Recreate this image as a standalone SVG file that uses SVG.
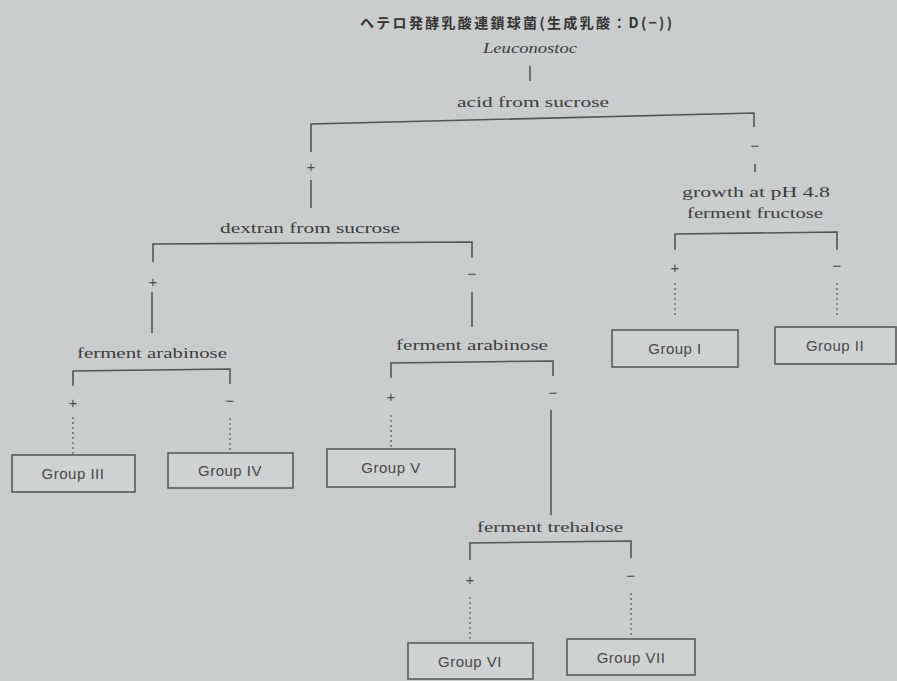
<svg xmlns="http://www.w3.org/2000/svg" width="897" height="681" viewBox="0 0 897 681">
  <style>
    .lbl { font-family: "Liberation Serif", "DejaVu Serif", serif; font-size: 15px; fill: #3c3c3c; text-anchor: middle; }
    .sign { font-family: "Liberation Sans", "DejaVu Sans", sans-serif; font-size: 15px; fill: #4a4a4a; text-anchor: middle; }
    .grp { font-family: "Liberation Sans", "DejaVu Sans", sans-serif; font-size: 15px; fill: #484848; text-anchor: middle; letter-spacing: 0.5px; }
    .box { fill: #cfd2d2; stroke: #5a5a5a; stroke-width: 1.6; }
    .ln { fill: none; stroke: #555; stroke-width: 1.6; }
    .dot { fill: none; stroke: #666; stroke-width: 1.4; stroke-dasharray: 2 3; }
  </style>
  <rect width="897" height="681" fill="#cacdcd"/>

  <!-- heading -->
  <text x="516" y="28" font-family="'Noto Sans CJK JP', sans-serif" font-size="14" font-weight="bold" fill="#333" text-anchor="middle" textLength="312" lengthAdjust="spacing">ヘテロ発酵乳酸連鎖球菌(生成乳酸：D(−))</text>
  <text x="530" y="53" class="lbl" font-style="italic" textLength="94" lengthAdjust="spacingAndGlyphs">Leuconostoc</text>

  <!-- decision labels -->
  <g id="acid-sucrose"><text x="533" y="107" class="lbl" textLength="152" lengthAdjust="spacingAndGlyphs">acid from sucrose</text></g>
  <g id="dextran-sucrose"><text x="310" y="233" class="lbl" textLength="180" lengthAdjust="spacingAndGlyphs">dextran from sucrose</text></g>
  <g id="growth-ph">
    <text x="756" y="197" class="lbl" textLength="148" lengthAdjust="spacingAndGlyphs">growth at pH 4.8</text>
    <text x="755" y="218" class="lbl" textLength="136" lengthAdjust="spacingAndGlyphs">ferment fructose</text>
  </g>
  <g id="arabinose-left"><text x="152" y="358" class="lbl" textLength="150" lengthAdjust="spacingAndGlyphs">ferment arabinose</text></g>
  <g id="arabinose-right"><text x="472" y="350" class="lbl" textLength="152" lengthAdjust="spacingAndGlyphs">ferment arabinose</text></g>
  <g id="trehalose"><text x="550" y="532" class="lbl" textLength="146" lengthAdjust="spacingAndGlyphs">ferment trehalose</text></g>

  <!-- result groups -->
  <g id="group-1"><rect class="box" x="612" y="330" width="126" height="37"/><text x="675" y="354" class="grp">Group  I</text></g>
  <g id="group-2"><rect class="box" x="775" y="327" width="121" height="37"/><text x="835" y="351" class="grp">Group  II</text></g>
  <g id="group-3"><rect class="box" x="12" y="455" width="123" height="37"/><text x="73" y="479" class="grp">Group  III</text></g>
  <g id="group-4"><rect class="box" x="168" y="453" width="125" height="35"/><text x="230" y="476" class="grp">Group  IV</text></g>
  <g id="group-5"><rect class="box" x="327" y="449" width="128" height="38"/><text x="391" y="473" class="grp">Group  V</text></g>
  <g id="group-6"><rect class="box" x="408" y="643" width="125" height="36"/><text x="470" y="667" class="grp">Group  VI</text></g>
  <g id="group-7"><rect class="box" x="567" y="639" width="128" height="36"/><text x="631" y="663" class="grp">Group  VII</text></g>

  <!-- connectors -->
  <g id="connectors">
    <line class="ln" x1="530" y1="66" x2="530" y2="81"/>
    <polyline class="ln" points="311,152 311,124 754,113 754,127"/>
    <line class="ln" x1="311" y1="180" x2="311" y2="208"/>
    <line class="ln" x1="755" y1="164" x2="755" y2="172"/>

    <polyline class="ln" points="153,262 153,244 472,242 472,258"/>
    <line class="ln" x1="152" y1="292" x2="152" y2="333"/>
    <line class="ln" x1="472" y1="292" x2="472" y2="327"/>

    <polyline class="ln" points="675,250 675,234 837,232 837,250"/>
    <line class="dot" x1="675" y1="283" x2="675" y2="318"/>
    <line class="dot" x1="837" y1="283" x2="837" y2="315"/>

    <polyline class="ln" points="73,386 73,371 230,369 230,384"/>
    <line class="dot" x1="73" y1="417" x2="73" y2="454"/>
    <line class="dot" x1="230" y1="418" x2="230" y2="452"/>

    <polyline class="ln" points="391,378 391,363 553,361 553,376"/>
    <line class="dot" x1="391" y1="415" x2="391" y2="448"/>
    <line class="ln" x1="551" y1="410" x2="551" y2="515"/>

    <polyline class="ln" points="470,560 470,543 631,541 631,558"/>
    <line class="dot" x1="470" y1="597" x2="470" y2="642"/>
    <line class="dot" x1="631" y1="593" x2="631" y2="638"/>

    <!-- branch signs -->
    <text class="sign" x="311" y="172">+</text>
    <text class="sign" x="755" y="151">−</text>
    <text class="sign" x="153" y="287">+</text>
    <text class="sign" x="472" y="279">−</text>
    <text class="sign" x="675" y="273">+</text>
    <text class="sign" x="837" y="271">−</text>
    <text class="sign" x="73" y="408">+</text>
    <text class="sign" x="230" y="406">−</text>
    <text class="sign" x="391" y="402">+</text>
    <text class="sign" x="553" y="398">−</text>
    <text class="sign" x="470" y="585">+</text>
    <text class="sign" x="631" y="581">−</text>
  </g>
</svg>
